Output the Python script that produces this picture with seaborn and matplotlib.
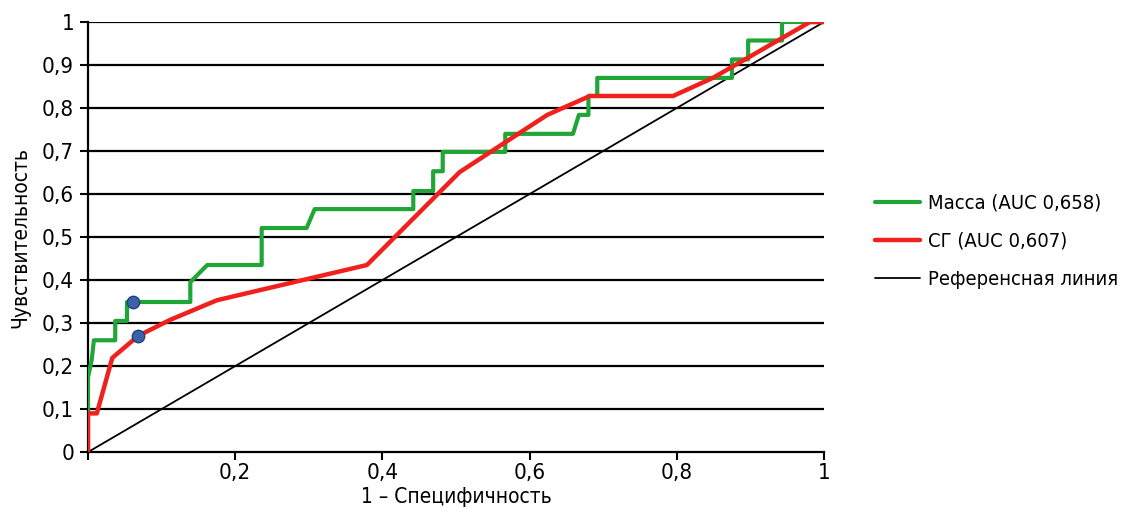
import numpy as np
import pandas as pd
from matplotlib import pyplot as plt
import seaborn as sns

# ROC curve vertices (1 - specificity, sensitivity)
mass_fpr = [0, 0, 0.005, 0.008, 0.037, 0.037, 0.053, 0.053, 0.139, 0.139, 0.162,
            0.236, 0.236, 0.297, 0.308, 0.442, 0.442, 0.469, 0.469, 0.482, 0.482,
            0.567, 0.567, 0.659, 0.667, 0.68, 0.68, 0.692, 0.692, 0.875, 0.875,
            0.897, 0.897, 0.943, 0.943, 1.0]
mass_tpr = [0, 0.174, 0.214, 0.26, 0.26, 0.305, 0.305, 0.349, 0.349, 0.395, 0.435,
            0.435, 0.521, 0.521, 0.565, 0.565, 0.607, 0.607, 0.653, 0.653, 0.698,
            0.698, 0.74, 0.74, 0.784, 0.784, 0.828, 0.828, 0.87, 0.87, 0.913,
            0.913, 0.957, 0.957, 1.0, 1.0]

sg_fpr = [0, 0, 0.012, 0.033, 0.068, 0.111, 0.175, 0.379, 0.505, 0.624, 0.682,
          0.795, 0.849, 0.981, 1.0]
sg_tpr = [0, 0.09, 0.09, 0.219, 0.27, 0.307, 0.353, 0.435, 0.651, 0.784, 0.828,
          0.828, 0.87, 1.0, 1.0]

ref_line = [0, 1]

cut_fpr = [0.061, 0.068]
cut_tpr = [0.349, 0.27]

labels = ['Масса (AUC 0,658)', 'СГ (AUC 0,607)', 'Референсная линия']
y_ticks = np.round(np.arange(0, 1.01, 0.1), 1)
x_ticks = np.round(np.arange(0, 1.01, 0.2), 1)

sns.set_style('white')
plt.rcParams['font.family'] = ['DejaVu Sans']
plt.rcParams['font.stretch'] = 'condensed'
plt.rcParams['text.color'] = 'black'
plt.rcParams['axes.labelcolor'] = 'black'
plt.rcParams['xtick.color'] = 'black'
plt.rcParams['ytick.color'] = 'black'

fig = plt.figure(figsize=(11.21, 5.12), dpi=100)
ax = fig.add_axes([0.0785, 0.117, 0.6565, 0.84])

for y in y_ticks[1:]:
    ax.axhline(y, color='black', lw=1.6, zorder=1)

sns.lineplot(x=ref_line, y=ref_line, ax=ax, color='black', lw=1.3,
             label=labels[2], zorder=2)
sns.lineplot(x=mass_fpr, y=mass_tpr, ax=ax, sort=False, estimator=None,
             color='#1fa637', lw=3, label=labels[0], zorder=3)
sns.lineplot(x=sg_fpr, y=sg_tpr, ax=ax, sort=False, estimator=None,
             color='#f0201c', lw=3.2, label=labels[1], zorder=4)
sns.scatterplot(x=cut_fpr, y=cut_tpr, ax=ax, color='#3a62a8', edgecolor='#24427a',
                s=80, linewidth=1, zorder=5)

ax.set_xlim(0, 1)
ax.set_ylim(0, 1)
ax.set_yticks(y_ticks)
ax.set_yticklabels([f'{v:g}'.replace('.', ',') for v in y_ticks])
ax.set_xticks(x_ticks)
ax.set_xticklabels([''] + [f'{v:g}'.replace('.', ',') for v in x_ticks[1:]])
ax.tick_params(axis='both', labelsize=16, length=6, width=1.5, color='black',
               direction='out', left=True, bottom=True)
ax.tick_params(axis='x', pad=2)
ax.tick_params(axis='y', pad=4)
for side in ['top', 'right']:
    ax.spines[side].set_visible(False)
for side in ['left', 'bottom']:
    ax.spines[side].set_color('black')
    ax.spines[side].set_linewidth(1.6)

ax.set_xlabel('1 – Специфичность', fontsize=15, labelpad=3)
ax.set_ylabel('Чувствительность', fontsize=15, labelpad=8)

handles, lbls = ax.get_legend_handles_labels()
order = [lbls.index(l) for l in labels]
leg = ax.legend([handles[i] for i in order], [lbls[i] for i in order],
                loc='center left', bbox_to_anchor=(1.07, 0.49), frameon=False,
                fontsize=14.5, handlelength=2.2, handletextpad=0.4,
                labelspacing=0.95, borderpad=0, borderaxespad=0)

fig.savefig('out.png', dpi=100)
